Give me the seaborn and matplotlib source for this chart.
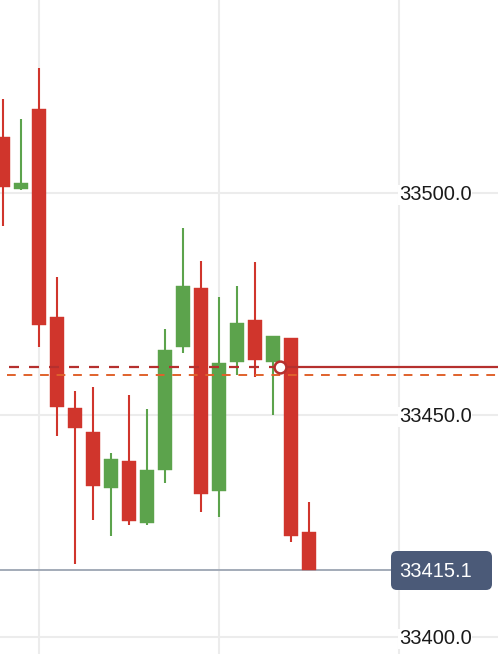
import matplotlib
matplotlib.use("Agg")
import matplotlib.pyplot as plt
import matplotlib.transforms as mtransforms
from matplotlib.patches import FancyBboxPatch
import seaborn as sns
import pandas as pd
import numpy as np

# ---- data ----
opens  = [33512.6, 33500.8, 33518.8, 33472.1, 33451.6, 33446.0, 33433.5, 33439.5, 33425.5,
          33437.5, 33465.2, 33478.5, 33432.7, 33461.8, 33471.3, 33461.8, 33467.2, 33423.6]
highs  = [33521.0, 33516.5, 33528.1, 33480.9, 33455.3, 33456.3, 33441.3, 33454.4, 33451.3,
          33469.3, 33492.0, 33484.7, 33476.4, 33479.0, 33484.5, 33467.7, 33467.2, 33430.3]
lows   = [33492.5, 33500.5, 33465.3, 33445.3, 33416.3, 33426.3, 33422.7, 33425.2, 33425.2,
          33434.7, 33463.8, 33428.0, 33426.9, 33458.9, 33458.4, 33449.9, 33421.3, 33415.1]
closes = [33501.3, 33502.1, 33470.2, 33451.7, 33447.1, 33434.0, 33440.0, 33426.1, 33437.5,
          33464.6, 33478.9, 33432.1, 33461.6, 33470.7, 33462.3, 33467.7, 33422.7, 33415.1]
y_ticks = [33400.0, 33450.0, 33500.0]
last_price = 33415.1
position_price = 33460.8
order_price = 33459.0
marker_index = 15.39

RED = "#d0352c"
GREEN = "#5ca34c"

df = pd.DataFrame({"i": np.arange(len(opens)), "open": opens, "high": highs,
                   "low": lows, "close": closes})
df["up"] = df["close"] >= df["open"]

sns.set_theme(style="whitegrid")
plt.rcParams["font.family"] = ["Liberation Sans", "DejaVu Sans"]

W, H = 498, 654
fig = plt.figure(figsize=(W / 100, H / 100), dpi=100)
ax = fig.add_axes([0, 0, 1, 1])
ax.set_facecolor("white")
for s in ax.spines.values():
    s.set_visible(False)

ax.set_xlim(-0.167, 27.5)
ax.set_ylim(33396.1, 33543.4)
ax.set_xticks([2, 12, 22])
ax.set_yticks(y_ticks)
ax.set_xticklabels([])
ax.set_yticklabels([])
ax.tick_params(length=0)
ax.grid(True, color="#ececec", linewidth=1.5)
ax.set_axisbelow(True)

# candles
for _, r in df.iterrows():
    c = GREEN if r["up"] else RED
    ax.vlines(r["i"], r["low"], r["high"], color=c, linewidth=1.5, zorder=3)
    lo = min(r["open"], r["close"])
    h = max(abs(r["close"] - r["open"]), 0.25)
    ax.bar(r["i"], h, bottom=lo, width=0.78, color=c, edgecolor=c, linewidth=0.3, zorder=4)

# price lines
xmin = ax.get_xlim()[0]
xmax = ax.get_xlim()[1]
ax.plot([0.33, marker_index], [position_price] * 2, color="#b5302e", linewidth=1.6,
        dashes=(4.5, 4.5), zorder=5)
ax.plot([marker_index, xmax], [position_price] * 2, color="#b5302e", linewidth=1.6, zorder=5)
ax.plot([0.22, xmax], [order_price] * 2, color="#e0622c", linewidth=1.4,
        dashes=(4.5, 4), zorder=5)
ax.plot([marker_index], [position_price], marker="o", markersize=8.5,
        markerfacecolor="white", markeredgecolor="#b5302e", markeredgewidth=1.8, zorder=6)

# last price line
ax.plot([xmin, (391 - 3) / 18], [last_price] * 2, color="#a3abb8", linewidth=1.4, zorder=2)

# y labels inside plot
trans = mtransforms.blended_transform_factory(ax.transAxes, ax.transData)
for v in y_ticks:
    ax.text(399 / W, v, f"{v:.1f}", transform=trans, ha="left", va="center_baseline",
            fontsize=14.5, color="#1a1a1a", zorder=7,
            bbox=dict(facecolor="white", edgecolor="none", pad=0.5))

# last price badge
box = FancyBboxPatch((391 / W, 1 - 590 / H), (492 - 391) / W, 39 / H,
                     boxstyle="round,pad=0,rounding_size=0.012",
                     transform=ax.transAxes, facecolor="#4b5a78", edgecolor="none",
                     zorder=8, mutation_aspect=W / H)
ax.add_patch(box)
ax.text(399 / W, last_price, f"{last_price:.1f}", transform=trans, ha="left",
        va="center_baseline", fontsize=14.5, color="white", zorder=9)

fig.savefig("out.png", dpi=100)
